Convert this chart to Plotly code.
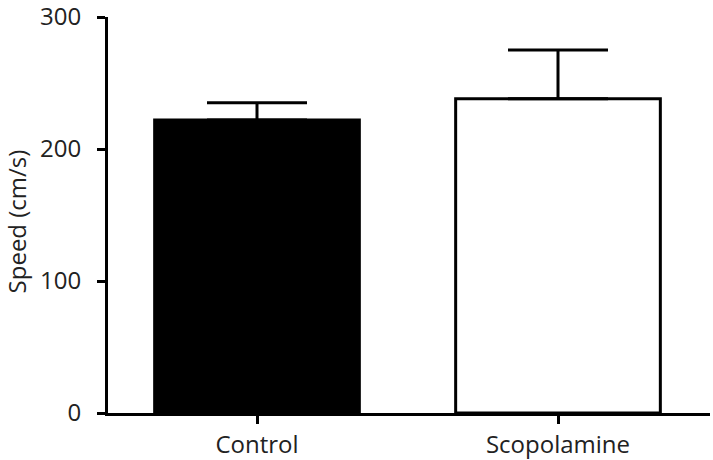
import plotly.graph_objects as go

groups = ["Control", "Scopolamine"]
speed_mean = [222, 238]
speed_sem = [13, 37]
fill_colors = ["black", "white"]
y_ticks = [0, 100, 200, 300]
y_title = "Speed (cm/s)"

fig = go.Figure()
fig.add_trace(go.Bar(
    x=groups,
    y=speed_mean,
    width=0.68,
    marker=dict(color=fill_colors, line=dict(color="black", width=3)),
    error_y=dict(type="data", array=speed_sem, arrayminus=[0, 0], symmetric=False,
                 color="black", thickness=3, width=50),
    showlegend=False,
))

fig.update_layout(
    width=713, height=460,
    margin=dict(l=108, r=3, t=17, b=47),
    paper_bgcolor="white", plot_bgcolor="white",
    font=dict(family="Open Sans", size=24, color="#222"),
)
fig.update_xaxes(
    range=[-0.495, 1.505], showline=True, linecolor="black", linewidth=3,
    ticks="outside", ticklen=8, tickwidth=3, tickcolor="black", ticklabelstandoff=0,
    showgrid=False, zeroline=False, automargin=False, ticklabeloverflow="allow",
)
fig.update_yaxes(
    range=[0, 300], tickvals=y_ticks, showline=True, linecolor="black", linewidth=3,
    ticks="outside", ticklen=8, tickwidth=3, tickcolor="black", ticklabelstandoff=11,
    showgrid=False, zeroline=False, automargin=False, ticklabeloverflow="allow",
)

# y title as an annotation so it can sit right at the left edge like the original
fig.add_annotation(
    text=y_title, textangle=-90, showarrow=False,
    xref="paper", yref="paper", x=-0.152, y=0.485,
    xanchor="center", yanchor="middle", font=dict(size=24),
)

# page has a default 8px body margin; drop it so the figure fills the window
fig.write_html("out.html", config={"displayModeBar": False},
               post_script="document.body.style.margin='0';")
